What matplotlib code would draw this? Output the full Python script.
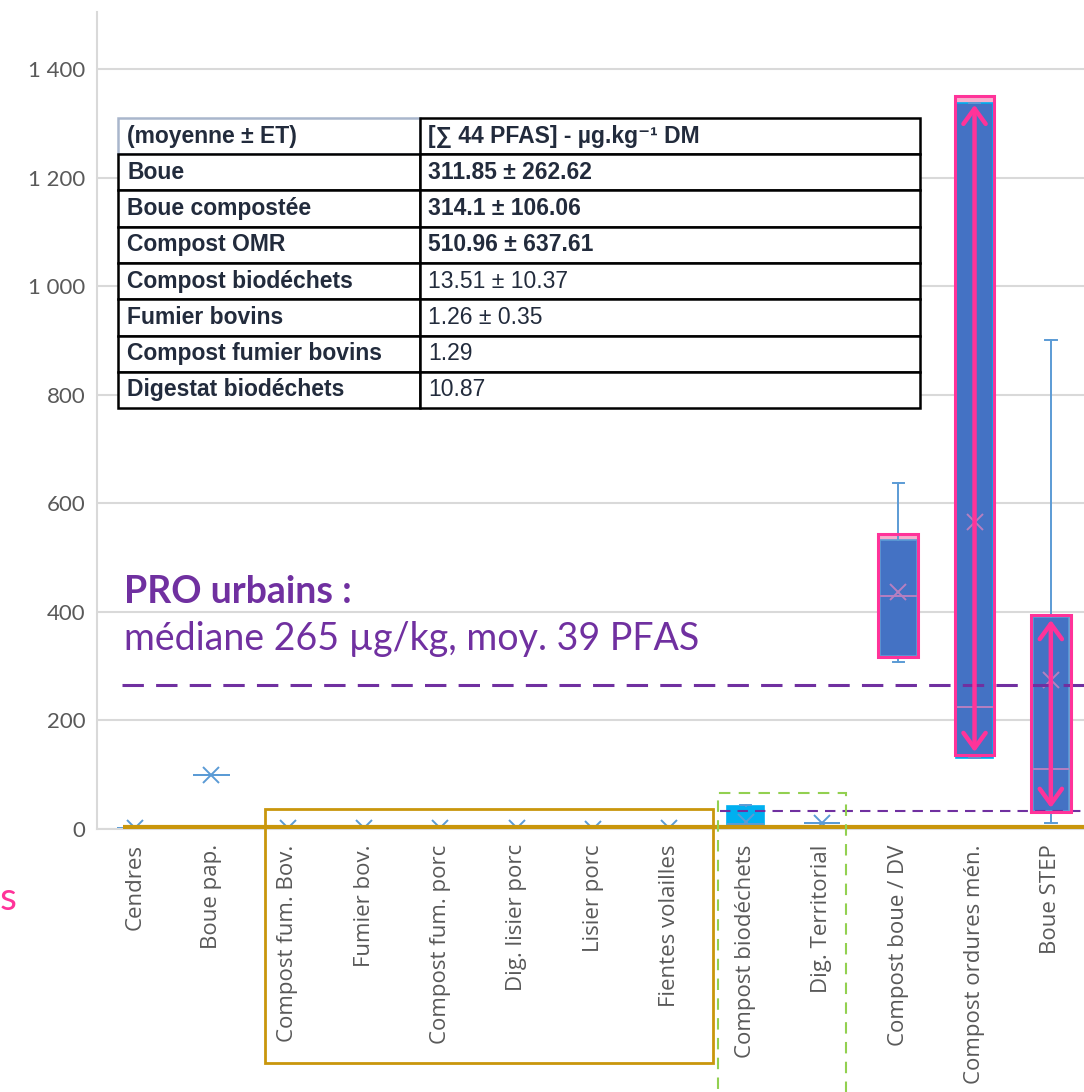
import matplotlib
matplotlib.use('Agg')
import matplotlib.pyplot as plt
from matplotlib.patches import Rectangle
from matplotlib.ticker import FuncFormatter, MultipleLocator

# --- données : somme des PFAS (µg/kg MS) par type de PRO ---
categories = ['Cendres', 'Boue pap.', 'Compost fum. Bov.', 'Fumier bov.',
              'Compost fum. porc', 'Dig. lisier porc', 'Lisier porc',
              'Fientes volailles', 'Compost biodéchets', 'Dig. Territorial',
              'Compost boue / DV', 'Compost ordures mén.', 'Boue STEP']
whis_lo = [2, 100, 1.29, 1.26, 2, 2, 1, 2, 2, 10.87, 308, 131, 11]
q1 = [2, 100, 1.29, 1.26, 2, 2, 1, 2, 3, 10.87, 319, 131, 33]
medians = [2, 100, 1.29, 1.26, 2, 2, 1, 2, 10, 10.87, 429, 225, 111]
q3 = [2, 100, 1.29, 1.26, 2, 2, 1, 2, 42, 10.87, 533, 1338, 391]
whis_hi = [2, 100, 1.29, 1.26, 2, 2, 1, 2, 44, 10.87, 638, 1338, 901]
means = [2, 100, 1.29, 1.26, 2, 2, 1, 2, 13.51, 10.87, 437, 566, 275]

# encadrés roses autour des boîtes urbaines
highlight_idx = [10, 11, 12]
highlight_lo = [317, 136, 31]
highlight_hi = [543, 1350, 394]
arrow_idx = [11, 12]
arrow_lo = [142, 39]
arrow_hi = [1334, 385]

# lignes de référence
seuil_agri = 4
mediane_urbains = 265
mediane_bio = 33

# tableau récapitulatif
table_header = ['(moyenne ± ET)', '[∑ 44 PFAS] - µg.kg⁻¹ DM']
table_rows = ['Boue', 'Boue compostée', 'Compost OMR', 'Compost biodéchets',
              'Fumier bovins', 'Compost fumier bovins', 'Digestat biodéchets']
table_vals = ['311.85 ± 262.62', '314.1 ± 106.06', '510.96 ± 637.61',
              '13.51 ± 10.37', '1.26 ± 0.35', '1.29', '10.87']
bold_vals = [True, True, True, False, False, False, False]

BLUE = '#4472C4'
LIGHT_BLUE = '#5B9BD5'
CYAN = '#00B0F0'
PINK = '#FF3399'
PURPLE = '#7030A0'
GOLD = '#C9960C'
GREEN = '#92D050'
GRAY = '#595959'
GRID = '#D9D9D9'
INK = '#222B3C'

fig = plt.figure(figsize=(10.84, 10.92), dpi=100)
ax = fig.add_axes([0.0895, 0.2408, 0.9151, 0.7482])

stats = [dict(label=c, whislo=a, q1=b, med=m, q3=d, whishi=e, mean=f)
         for c, a, b, m, d, e, f in zip(categories, whis_lo, q1, medians, q3, whis_hi, means)]
pos = list(range(len(categories)))

# fonds roses sous les boîtes
for i, lo, hi in zip(highlight_idx, highlight_lo, highlight_hi):
    ax.add_patch(Rectangle((i - 0.26, lo), 0.52, hi - lo, facecolor='#F6AECD',
                           edgecolor='none', zorder=1.5))

bp = ax.bxp(stats, positions=pos, widths=0.48, patch_artist=True,
            showmeans=True, showfliers=False, capwidths=0.15,
            boxprops=dict(facecolor=BLUE, edgecolor=LIGHT_BLUE, linewidth=1.2),
            whiskerprops=dict(color=LIGHT_BLUE, linewidth=1.4),
            capprops=dict(color=LIGHT_BLUE, linewidth=1.4),
            medianprops=dict(color=LIGHT_BLUE, linewidth=1.4),
            meanprops=dict(marker='x', markeredgecolor=LIGHT_BLUE,
                           markersize=11, markeredgewidth=1.4))
bp['boxes'][8].set_facecolor(CYAN)
bp['boxes'][8].set_edgecolor(CYAN)
for i in highlight_idx:
    bp['medians'][i].set_color('#B77FC0')
    bp['means'][i].set_markeredgecolor('#B77FC0')
bp['boxes'][11].set_edgecolor(CYAN)

# contours roses et flèches
for i, lo, hi in zip(highlight_idx, highlight_lo, highlight_hi):
    ax.add_patch(Rectangle((i - 0.26, lo), 0.52, hi - lo, fill=False,
                           edgecolor=PINK, linewidth=2.2, zorder=4))
for i, lo, hi in zip(arrow_idx, arrow_lo, arrow_hi):
    ax.annotate('', xy=(i, hi), xytext=(i, lo),
                arrowprops=dict(arrowstyle='<->,head_length=0.55,head_width=0.4',
                                color=PINK, lw=3.2, mutation_scale=20,
                                shrinkA=0, shrinkB=0), zorder=5)

# lignes horizontales de référence
ax.hlines(seuil_agri, -0.16, 12.6, color=GOLD, linewidth=3, zorder=3)
ax.hlines(mediane_urbains, -0.17, 12.6, color=PURPLE, linewidth=2.2,
          linestyle=(0, (7, 4)), zorder=3)
ax.hlines(mediane_bio, 7.67, 12.6, color=PURPLE, linewidth=1.5,
          linestyle=(0, (5, 3.4)), zorder=3)

# regroupements sous l'axe
ax.add_patch(Rectangle((1.70, -431), 5.87, 468, fill=False, edgecolor=GOLD,
                       linewidth=2, clip_on=False, zorder=3))
ax.add_patch(Rectangle((7.64, -700), 1.68, 766, fill=False, edgecolor=GREEN,
                       linewidth=1.5, linestyle=(0, (5.5, 4)), clip_on=False, zorder=3))

# axes
ax.set_xlim(-0.5, len(categories) - 0.5)
ax.set_ylim(0, 1505)
ax.yaxis.set_major_locator(MultipleLocator(200))
ax.yaxis.set_major_formatter(FuncFormatter(lambda v, _: f'{int(v):,}'.replace(',', ' ')))
ax.grid(axis='y', color=GRID, linewidth=1.5, zorder=0)
ax.set_axisbelow(True)
for s in ['top', 'right']:
    ax.spines[s].set_visible(False)
for s in ['left', 'bottom']:
    ax.spines[s].set_color(GRID)
    ax.spines[s].set_linewidth(1.5)
ax.tick_params(axis='both', length=0)
ax.tick_params(axis='y', pad=8.5, labelsize=16, labelcolor=GRAY)
ax.tick_params(axis='x', pad=11, labelsize=16, labelcolor=GRAY)
ax.set_xticks(pos)
ax.set_xticklabels(categories, rotation=90, family='Open Sans')
for lab in ax.get_yticklabels():
    lab.set_family('Lato')

# tableau
cell_text = [table_header] + [[r, v] for r, v in zip(table_rows, table_vals)]
tbl = ax.table(cellText=cell_text, colWidths=[0.3045, 0.504],
               bbox=[0.0212, 0.5153, 0.8085, 0.3550], cellLoc='left', zorder=6)
tbl.auto_set_font_size(False)
for (r, c), cell in tbl.get_celld().items():
    cell.set_facecolor('white')
    cell.set_edgecolor('black')
    cell.set_linewidth(1.8)
    cell.PAD = 0.03 if c == 0 else 0.016
    txt = cell.get_text()
    txt.set_fontsize(16.5)
    txt.set_color(INK)
    txt.set_family(['Liberation Sans Narrow', 'Liberation Sans', 'DejaVu Sans'])
    if c == 0 or r == 0 or bold_vals[r - 1]:
        txt.set_fontweight('bold')
tbl[0, 0].set_edgecolor('#A9B6CC')

# annotations
fig.text(124 / 1084, 1 - 603 / 1092, 'PRO urbains :', color=PURPLE,
         fontsize=27, fontweight='bold', family='Lato', va='baseline')
fig.text(124 / 1084, 1 - 650 / 1092, 'médiane 265 µg/kg, moy. 39 PFAS',
         color=PURPLE, fontsize=27, family='Lato', va='baseline')
fig.text(0.0, 1 - 910 / 1092, 's', color=PINK, fontsize=28,
         family='Lato', ha='left', va='baseline')

fig.savefig('out.png', dpi=100)
